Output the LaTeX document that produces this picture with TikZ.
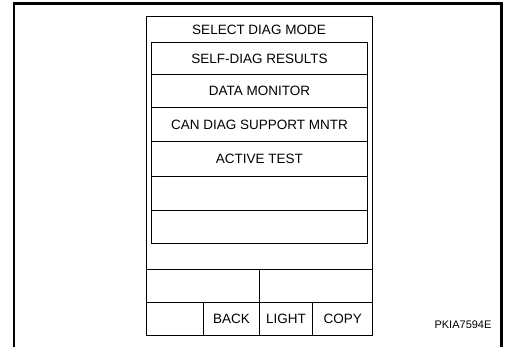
\documentclass[tikz,border=0pt]{standalone}
\usepackage{fontspec}
\setmainfont{Liberation Sans}
\begin{document}
\begin{tikzpicture}[x=1pt,y=-1pt,
  frame/.style={line width=2.6pt,line cap=rect},
  box/.style={draw,line width=0.9pt},
  lbl/.style={font=\fontsize{13.5}{14}\selectfont,inner sep=0pt,anchor=center},
  code/.style={font=\fontsize{11}{12}\selectfont,inner sep=0pt}]
\useasboundingbox (0,0) rectangle (506,347);
% outer frame
\coordinate (fbl) at (14,347);
\coordinate (ftl) at (14,3.5);
\coordinate (ftr) at (501.5,3.5);
\coordinate (fbr) at (501.5,347);
\draw[frame] (fbl) -- (ftl) -- (ftr) -- (fbr);
% screen
\node[box,minimum width=226.6pt,minimum height=319pt,inner sep=0pt,anchor=north west] (screen) at (145.7,16) {};
\node[lbl] (title) at (259,30) {SELECT DIAG MODE};
% list rows
\foreach \t/\b/\txt [count=\i] in {42/74/SELF-DIAG RESULTS,74/107.5/DATA MONITOR,107.5/141/CAN DIAG SUPPORT MNTR,141/176/ACTIVE TEST,176/210/,210/243/}{
  \node[box,minimum width=216pt,minimum height={(\b-\t)*1pt},inner sep=0pt,anchor=north west] (row\i) at (151,\t) {};
  \node[lbl] (rowtxt\i) at (row\i.center) {\txt};
}
% bottom area
\node[box,minimum width=113.3pt,minimum height=32.7pt,inner sep=0pt,anchor=north west] (m1) at (145.7,269.3) {};
\node[box,minimum width=113.3pt,minimum height=32.7pt,inner sep=0pt,anchor=north west] (m2) at (259,269.3) {};
\node[box,minimum width=57.6pt,minimum height=33.3pt,inner sep=0pt,anchor=north west] (b1) at (145.7,302) {};
\node[box,minimum width=55.7pt,minimum height=33.3pt,inner sep=0pt,anchor=north west] (b2) at (203.3,302) {};
\node[box,minimum width=53.3pt,minimum height=33.3pt,inner sep=0pt,anchor=north west] (b3) at (259,302) {};
\node[box,minimum width=60pt,minimum height=33.3pt,inner sep=0pt,anchor=north west] (b4) at (312.3,302) {};
\node[lbl] (back) at (b2.center) {BACK};
\node[lbl] (light) at (b3.center) {LIGHT};
\node[lbl] (copy) at (b4.center) {COPY};
\node[code] (pk) at (463,325) {PKIA7594E};
\end{tikzpicture}
\end{document}
